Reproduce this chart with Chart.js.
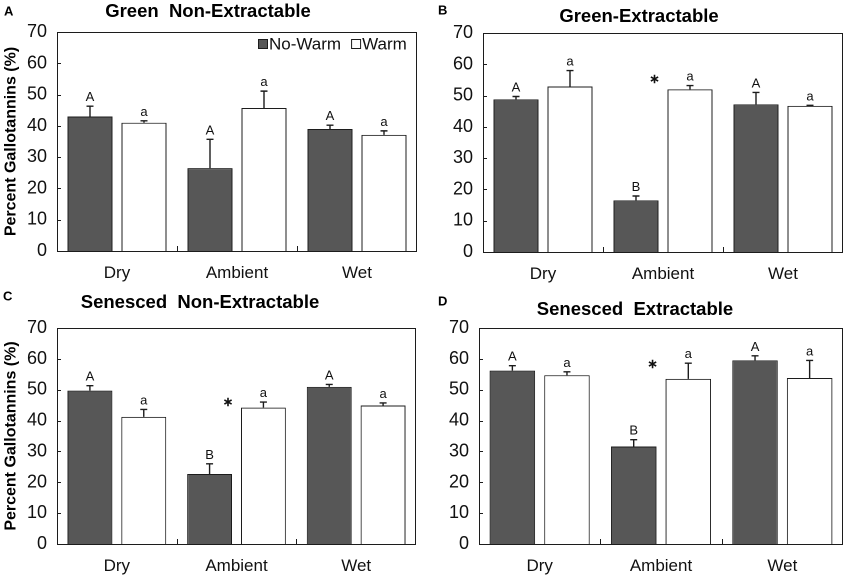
<!DOCTYPE html>
<html>
<head>
<meta charset="utf-8">
<script src="https://cdn.jsdelivr.net/npm/chart.js@4/dist/chart.umd.min.js"></script>
<style>
  html, body { margin: 0; padding: 0; background: #fff; }
  #page { position: relative; width: 851px; height: 576px; overflow: hidden; }
  .panel { position: absolute; }
</style>
</head>
<body>
<div id="page">
  <div class="panel" id="pA" style="left:0px;top:0px;width:425px;height:288px"><canvas id="cA"></canvas></div>
  <div class="panel" id="pB" style="left:425px;top:0px;width:426px;height:288px"><canvas id="cB"></canvas></div>
  <div class="panel" id="pC" style="left:0px;top:286px;width:425px;height:290px"><canvas id="cC"></canvas></div>
  <div class="panel" id="pD" style="left:425px;top:286px;width:426px;height:290px"><canvas id="cD"></canvas></div>
</div>
<script>
// ---- data ----
const categories = ["Dry", "Ambient", "Wet"];
const seriesNames = ["No-Warm", "Warm"];

const greenNonExtNoWarm = [43.0, 26.5, 39.0];
const greenNonExtNoWarmErr = [3.3, 9.2, 1.2];
const greenNonExtWarm = [41.0, 45.7, 37.1];
const greenNonExtWarmErr = [0.6, 5.4, 1.3];

const greenExtNoWarm = [48.8, 16.5, 47.2];
const greenExtNoWarmErr = [0.9, 1.4, 3.8];
const greenExtWarm = [52.9, 52.0, 46.7];
const greenExtWarmErr = [5.1, 1.2, 0.2];

const senNonExtNoWarm = [49.7, 22.7, 50.9];
const senNonExtNoWarmErr = [1.6, 3.3, 0.8];
const senNonExtWarm = [41.2, 44.2, 44.9];
const senNonExtWarmErr = [2.4, 1.8, 0.8];

const senExtNoWarm = [56.2, 31.6, 59.5];
const senExtNoWarmErr = [1.6, 2.2, 1.5];
const senExtWarm = [54.7, 53.5, 53.8];
const senExtWarmErr = [1.1, 5.1, 5.7];

const lettersA = [["A", "A", "A"], ["a", "a", "a"]];
const lettersBCD = [["A", "B", "A"], ["a", "a", "a"]];
const asteriskNone = [false, false, false];
const asteriskAmbient = [false, true, false];

const yTickMin = 0;
const yTickMax = 70;
const yTickStep = 10;

// ---- styling ----
const FONT = "'Liberation Sans', Arial, sans-serif";
const DARK = "#575757";
const EDGE = "#1c1c1c";

function drawStar(ctx, cx, cy, r) {
    ctx.save();
    ctx.strokeStyle = "#111";
    ctx.lineWidth = 1.6;
    ctx.beginPath();
    for (let k = 0; k < 3; k++) {
        const ang = Math.PI / 2 + k * Math.PI / 3;
        ctx.moveTo(cx + r * Math.cos(ang), cy + r * Math.sin(ang));
        ctx.lineTo(cx - r * Math.cos(ang), cy - r * Math.sin(ang));
    }
    ctx.stroke();
    ctx.restore();
}

function decorPlugin(p) {
    return {
        id: "decor",
        afterDraw(chart) {
            const ctx = chart.ctx;
            const a = chart.chartArea;
            const y = chart.scales.y;
            ctx.save();

            // frame
            ctx.strokeStyle = EDGE;
            ctx.lineWidth = 1;
            ctx.strokeRect(a.left + 0.5, a.top + 0.5, a.right - a.left - 1, a.bottom - a.top);

            // inward y ticks
            ctx.beginPath();
            for (let v = yTickMin + yTickStep; v < yTickMax; v += yTickStep) {
                const py = Math.round(y.getPixelForValue(v)) + 0.5;
                ctx.moveTo(a.left, py);
                ctx.lineTo(a.left + 4, py);
            }
            // group separators on x axis
            const cw = (a.right - a.left) / categories.length;
            for (let i = 1; i < categories.length; i++) {
                const px = Math.round(a.left + cw * i) + 0.5;
                ctx.moveTo(px, a.bottom);
                ctx.lineTo(px, a.bottom - 5);
            }
            ctx.stroke();

            // error bars, letters, asterisks
            chart.data.datasets.forEach((ds, di) => {
                const meta = chart.getDatasetMeta(di);
                meta.data.forEach((bar, i) => {
                    const top = y.getPixelForValue(ds.data[i] + ds.err[i]);
                    const base = y.getPixelForValue(ds.data[i]);
                    ctx.strokeStyle = EDGE;
                    ctx.lineWidth = 1.4;
                    ctx.beginPath();
                    ctx.moveTo(bar.x, base);
                    ctx.lineTo(bar.x, top);
                    ctx.moveTo(bar.x - 3.5, top);
                    ctx.lineTo(bar.x + 3.5, top);
                    ctx.stroke();

                    ctx.fillStyle = "#111";
                    ctx.font = "13px " + FONT;
                    ctx.textAlign = "center";
                    ctx.textBaseline = "alphabetic";
                    ctx.fillText(ds.letters[i], bar.x, top - 5);

                    if (di === 1 && p.asterisk[i]) {
                        drawStar(ctx, bar.x - bar.width / 2 - 13, p.starY, 4.2);
                    }
                });
            });

            // panel title and letter
            ctx.fillStyle = "#000";
            ctx.textBaseline = "middle";
            ctx.textAlign = "center";
            ctx.font = "bold 18.5px " + FONT;
            ctx.fillText(p.title, p.titleX, p.titleY);
            ctx.textAlign = "left";
            ctx.font = "bold 13px " + FONT;
            ctx.fillText(p.tag, p.tagX, p.tagY);

            // y axis title
            if (p.yTitle) {
                ctx.save();
                ctx.translate(11, (a.top + a.bottom) / 2);
                ctx.rotate(-Math.PI / 2);
                ctx.textAlign = "center";
                ctx.font = "bold 16px " + FONT;
                ctx.fillText(p.yTitle, 0, 0);
                ctx.restore();
            }

            // legend
            if (p.legend) {
                const L = p.legend;
                ctx.font = "17px " + FONT;
                ctx.textAlign = "left";
                ctx.textBaseline = "middle";
                ctx.lineWidth = 1;
                ctx.strokeStyle = EDGE;
                let lx = L.x;
                seriesNames.forEach((name, k) => {
                    ctx.fillStyle = k === 0 ? DARK : "#fff";
                    ctx.fillRect(lx + 0.5, L.y - 4.5, 9, 9);
                    ctx.strokeRect(lx + 0.5, L.y - 4.5, 9, 9);
                    ctx.fillStyle = "#111";
                    ctx.fillText(name, lx + 11, L.y + 1);
                    lx += 11 + ctx.measureText(name).width + 10;
                });
            }
            ctx.restore();
        }
    };
}

function makePanel(canvasId, p) {
    const W = p.w, H = p.h;
    new Chart(document.getElementById(canvasId), {
        type: "bar",
        data: {
            labels: categories,
            datasets: [
                { label: seriesNames[0], data: p.noWarm, err: p.noWarmErr, letters: p.letters[0],
                  backgroundColor: DARK, borderColor: EDGE, borderWidth: 1 },
                { label: seriesNames[1], data: p.warm, err: p.warmErr, letters: p.letters[1],
                  backgroundColor: "#ffffff", borderColor: EDGE, borderWidth: 1 }
            ]
        },
        options: {
            responsive: true,
            maintainAspectRatio: false,
            animation: false,
            devicePixelRatio: 2,
            categoryPercentage: 0.9,
            barPercentage: 0.833,
            layout: { padding: { left: 0, top: p.area.top, right: W - p.area.right, bottom: 0 } },
            plugins: { legend: { display: false }, tooltip: { enabled: false } },
            scales: {
                x: {
                    grid: { display: false, drawTicks: false },
                    border: { display: false },
                    ticks: { color: "#111", font: { family: FONT, size: 17 }, padding: 12 },
                    afterFit(scale) { scale.height = H - p.area.bottom; }
                },
                y: {
                    min: yTickMin, max: yTickMax,
                    grid: { display: false, drawTicks: false },
                    border: { display: false },
                    ticks: { stepSize: yTickStep, color: "#111", font: { family: FONT, size: 18 }, padding: 10 },
                    afterFit(scale) { scale.width = p.area.left; }
                }
            }
        },
        plugins: [decorPlugin(p)]
    });
}

makePanel("cA", {
    w: 425, h: 288, area: { left: 57, top: 32, right: 417, bottom: 251 },
    noWarm: greenNonExtNoWarm, noWarmErr: greenNonExtNoWarmErr,
    warm: greenNonExtWarm, warmErr: greenNonExtWarmErr,
    letters: lettersA, asterisk: asteriskNone, starY: 0,
    title: "Green  Non-Extractable", titleX: 208, titleY: 12,
    tag: "A", tagX: 4, tagY: 12,
    yTitle: "Percent Gallotannins (%)",
    legend: { x: 258, y: 44 }
});
makePanel("cB", {
    w: 426, h: 288, area: { left: 58, top: 33, right: 418, bottom: 252 },
    noWarm: greenExtNoWarm, noWarmErr: greenExtNoWarmErr,
    warm: greenExtWarm, warmErr: greenExtWarmErr,
    letters: lettersBCD, asterisk: asteriskAmbient, starY: 79,
    title: "Green-Extractable", titleX: 214, titleY: 17,
    tag: "B", tagX: 13, tagY: 11
});
makePanel("cC", {
    w: 425, h: 290, area: { left: 57, top: 42, right: 416, bottom: 258 },
    noWarm: senNonExtNoWarm, noWarmErr: senNonExtNoWarmErr,
    warm: senNonExtWarm, warmErr: senNonExtWarmErr,
    letters: lettersBCD, asterisk: asteriskAmbient, starY: 116,
    title: "Senesced  Non-Extractable", titleX: 200, titleY: 17,
    tag: "C", tagX: 3, tagY: 11,
    yTitle: "Percent Gallotannins (%)"
});
makePanel("cD", {
    w: 426, h: 290, area: { left: 54, top: 42, right: 418, bottom: 258 },
    noWarm: senExtNoWarm, noWarmErr: senExtNoWarmErr,
    warm: senExtWarm, warmErr: senExtWarmErr,
    letters: lettersBCD, asterisk: asteriskAmbient, starY: 78,
    title: "Senesced  Extractable", titleX: 210, titleY: 24,
    tag: "D", tagX: 13, tagY: 16
});
</script>
</body>
</html>
